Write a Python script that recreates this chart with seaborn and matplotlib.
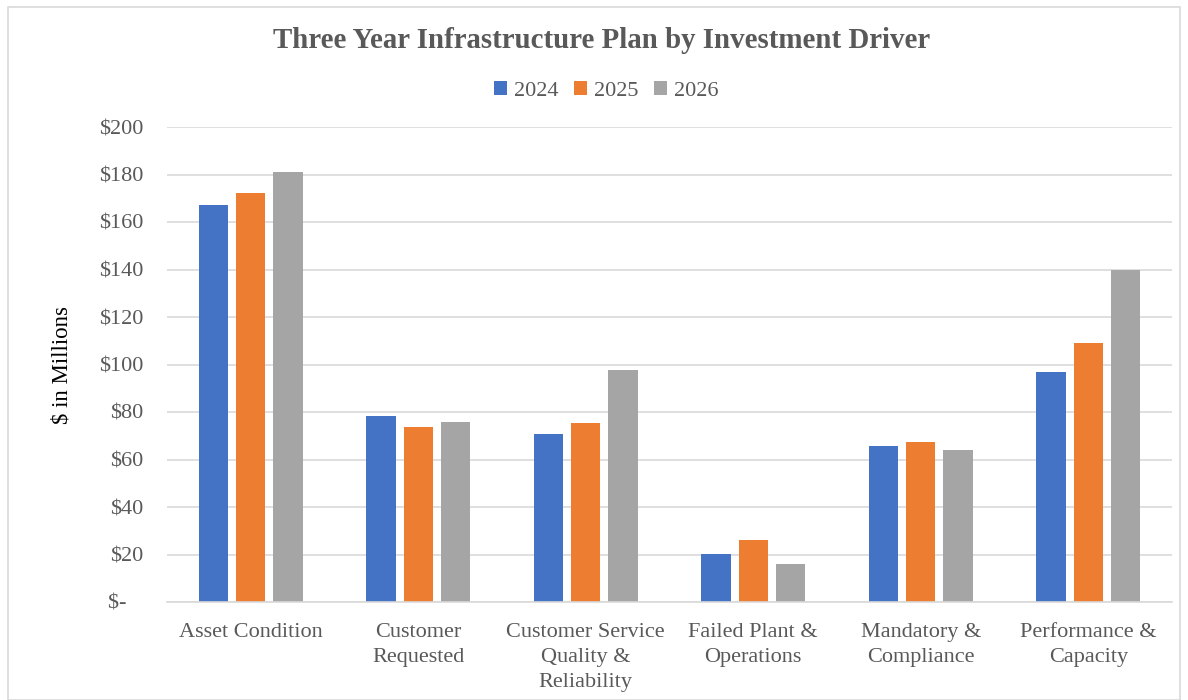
import matplotlib
matplotlib.use("Agg")
import matplotlib.pyplot as plt
import seaborn as sns
import pandas as pd
from matplotlib.patches import Rectangle

categories = ["Asset Condition", "Customer\nRequested", "Customer Service\nQuality &\nReliability",
              "Failed Plant &\nOperations", "Mandatory &\nCompliance", "Performance &\nCapacity"]
years = ["2024", "2025", "2026"]
values_2024 = [167.0, 78.3, 70.6, 20.3, 65.8, 96.9]
values_2025 = [172.3, 73.5, 75.2, 26.2, 67.4, 109.1]
values_2026 = [181.0, 75.9, 97.5, 16.1, 63.8, 139.8]
yticks = [0, 20, 40, 60, 80, 100, 120, 140, 160, 180, 200]
ytick_labels = ["$-   ", "$20", "$40", "$60", "$80", "$100", "$120", "$140", "$160", "$180", "$200"]
colors = ["#4472C4", "#ED7D31", "#A5A5A5"]

rows = []
for y, vals in zip(years, [values_2024, values_2025, values_2026]):
    for c, v in zip(categories, vals):
        rows.append({"Category": c, "Year": y, "Value": v})
df = pd.DataFrame(rows)

sns.set_theme(style="white")
plt.rcParams["font.family"] = ["Liberation Serif", "DejaVu Serif"]

fig = plt.figure(figsize=(11.88, 7.0), dpi=100)
ax = fig.add_axes([167/1188, 1-602/700, (1172-167)/1188, (602-127)/700])

sns.barplot(data=df, x="Category", y="Value", hue="Year", order=categories, hue_order=years,
            palette=colors, width=0.668, gap=0.214, ax=ax, saturation=1, edgecolor="none", legend=True)

ax.set_xlim(-0.5, 5.5)
ax.set_ylim(0, 200)
ax.set_yticks(yticks)
ax.set_yticklabels(ytick_labels)
ax.yaxis.grid(True, color="#D9D9D9", linewidth=1.2)
ax.set_axisbelow(True)
for s in ["top", "right", "left"]:
    ax.spines[s].set_visible(False)
ax.spines["bottom"].set_color("#D9D9D9")
ax.spines["bottom"].set_linewidth(1.2)
ax.tick_params(axis="both", length=0, labelsize=16, labelcolor="#595959")
ax.tick_params(axis="y", pad=17)
ax.tick_params(axis="x", pad=15)
for lbl in ax.get_xticklabels():
    lbl.set_linespacing(1.45)
ax.set_xlabel("")
ax.set_ylabel("$ in Millions", fontsize=16.5, color="black", labelpad=19)

leg = ax.legend(loc="center", bbox_to_anchor=(606/1188, 1-91/700), bbox_transform=fig.transFigure,
                ncol=3, frameon=False, fontsize=16, handlelength=0.6, handleheight=0.6,
                handletextpad=0.3, columnspacing=0.7)
for t in leg.get_texts():
    t.set_color("#595959")

fig.text(602/1188, 1-41/700, "Three Year Infrastructure Plan by Investment Driver", ha="center", va="center",
         fontsize=20.8, fontweight="bold", color="#595959")

fig.patches.append(Rectangle((8/1188, 0), (1180-8)/1188, 1-7/700, transform=fig.transFigure,
                             fill=False, edgecolor="#D9D9D9", linewidth=1.2))

fig.savefig("out.png", dpi=100, facecolor="white")
